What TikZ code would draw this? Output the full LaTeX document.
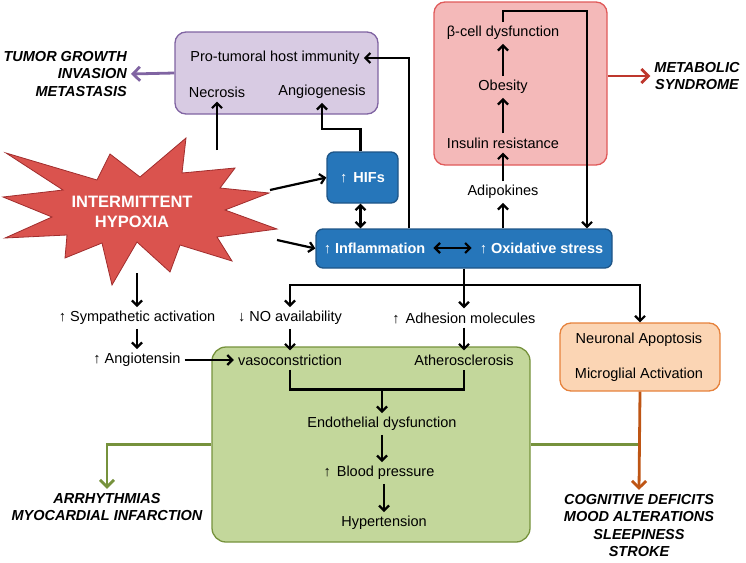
\documentclass[tikz,border=0pt]{standalone}
\usepackage{fontspec}
\setmainfont{Liberation Sans}
\usetikzlibrary{positioning}
\usetikzlibrary{calc}
\usetikzlibrary{arrows.meta}

\definecolor{immfill}{RGB}{216,203,227}
\definecolor{immline}{RGB}{128,100,162}
\definecolor{metfill}{RGB}{244,185,185}
\definecolor{metline}{RGB}{224,90,90}
\definecolor{metred}{RGB}{190,55,45}
\definecolor{hifblue}{RGB}{38,118,186}
\definecolor{hifline}{RGB}{30,85,135}
\definecolor{vasfill}{RGB}{195,215,155}
\definecolor{vasline}{RGB}{118,146,60}
\definecolor{neurfill}{RGB}{251,213,180}
\definecolor{neurline}{RGB}{230,130,60}
\definecolor{neurdark}{RGB}{190,85,20}
\definecolor{starfill}{RGB}{218,83,78}
\definecolor{starline}{RGB}{160,45,45}

\begin{document}
\begin{tikzpicture}[x=1pt,y=-1pt,
    every node/.style={font=\fontsize{14.5}{17.5}\selectfont,inner sep=4pt},
    box/.style={draw,rounded corners=11pt,line width=1.3pt},
    bluebox/.style={box,fill=hifblue,draw=hifline,rounded corners=7pt},
    boldw/.style={text=white,font=\fontsize{14.5}{17.5}\selectfont\bfseries},
    outcome/.style={font=\fontsize{14.5}{17.5}\selectfont\bfseries\itshape,align=center},
    arr/.style={-{Straight Barb[length=5pt,width=10pt]},line width=2.2pt},
    twoway/.style={{Straight Barb[length=5pt,width=10pt]}-{Straight Barb[length=5pt,width=10pt]},line width=2.2pt},
    bigarr/.style={-{Straight Barb[length=7pt,width=14pt]},line width=2.8pt}]
    \useasboundingbox (0,0) rectangle (746,562);

    \node[box,fill=immfill,draw=immline,minimum width=203pt,minimum height=82pt] (immbox) at (276.5,73) {};
    \node (immt) at (275,58) {Pro-tumoral host immunity};
    \node (necr) at (217,92) {Necrosis};
    \node (angi) at (322,92) {Angiogenesis};
    \node[outcome,align=right,anchor=east] (tumor) at (131,74) {TUMOR GROWTH\\INVASION\\METASTASIS};

    \node[box,fill=metfill,draw=metline,minimum width=173pt,minimum height=163pt] (metbox) at (520.5,83.5) {};
    \node (beta) at (503,33) {β-cell dysfunction};
    \node (obes) at (503,87) {Obesity};
    \node (insr) at (503,143) {Insulin resistance};
    \node (adip) at (503,192) {Adipokines};
    \node[outcome] (metab) at (697,76) {METABOLIC\\SYNDROME};

    \node[bluebox,minimum width=71pt,minimum height=51pt,boldw] (hifs) at (362.5,177.5) {↑\hspace{6pt}HIFs};
    \node[bluebox,minimum width=296pt,minimum height=39pt] (infl) at (464,248.5) {};
    \node[boldw] (inflt) at (374.5,248) {↑ Inflammation};
    \node[boldw] (oxt) at (541.5,248) {↑ Oxidative stress};

    \draw[fill=starfill,draw=starline,line width=0.8pt] (6,153) -- (97,180) -- (110,154) -- (140,177)
      -- (186,138) -- (182,173) -- (235,168) -- (220,188) -- (269,193) -- (225,210) -- (277,229)
      -- (217,237) -- (232,261) -- (180,245) -- (170,272) -- (137,242) -- (112,285) -- (102,243)
      -- (65,258) -- (67,235) -- (5,238) -- (52,217) -- (3,197) -- (63,190) -- cycle;
    \node[text=white,font=\fontsize{16.5}{20}\selectfont\bfseries,align=center] (ih) at (132,212) {INTERMITTENT\\HYPOXIA};
    \coordinate (ihN) at (217,150);
    \coordinate (ihE) at (270,190);
    \coordinate (ihSE) at (277,240);
    \coordinate (ihS) at (137,273);

    \node (symp) at (137,318) {↑ Sympathetic activation};
    \node (angio) at (137,360) {↑ Angiotensin};
    \node (no) at (290,318) {↓ NO availability};
    \node (adh) at (464,318) {↑\hspace{6pt}Adhesion molecules};

    \node[box,fill=vasfill,draw=vasline,minimum width=318pt,minimum height=195pt,rounded corners=14pt] (vasbox) at (371,444.5) {};
    \node (vaso) at (290,360) {vasoconstriction};
    \node (ather) at (464,360) {Atherosclerosis};
    \node (endo) at (382,424) {Endothelial dysfunction};
    \node (bp) at (379,473) {↑\hspace{6pt}Blood pressure};
    \node (hyper) at (384,523) {Hypertension};
    \node[outcome] (arrh) at (107,507) {ARRHYTHMIAS\\MYOCARDIAL INFARCTION};

    \node[box,fill=neurfill,draw=neurline,minimum width=160pt,minimum height=68pt] (neurbox) at (640,357) {};
    \node (apop) at (639,340) {Neuronal Apoptosis};
    \node (micro) at (639,375) {Microglial Activation};
    \node[outcome] (cog) at (639,525.5) {COGNITIVE DEFICITS\\MOOD ALTERATIONS\\SLEEPINESS\\STROKE};

    \draw[bigarr,immline] (immbox.west) -- (tumor.east);
    \draw[arr] (ihN) -- (necr.south);
    \draw[arr] ([xshift=-2pt]hifs.north) -- ++(0,-22) -| (angi.south);
    \draw[arr] (ihE) -- (hifs.west);
    \draw[arr] (ihSE) -- (infl.west);
    \draw[twoway] ([xshift=-2pt]hifs.south) -- ([xshift=-2pt]hifs.south |- infl.north);
    \draw[twoway,shorten <=4pt,shorten >=4pt] (inflt.east) -- (oxt.west);
    \draw[arr] ([xshift=-55pt]infl.north) |- (immt.east);

    \draw[arr] ([xshift=39pt]infl.north) -- (adip.south);
    \draw[arr] (adip.north) -- (insr.south);
    \draw[arr] (insr.north) -- (obes.south);
    \draw[arr] (obes.north) -- (beta.south);
    \draw[arr] (beta.north) -- ++(0,-11) -| ([xshift=123pt]infl.north);
    \draw[bigarr,metred] (metbox.east |- metab.west) -- (metab.west);

    \draw[line width=2.2pt] (infl.south) -- ++(0,16) coordinate (sp);
    \draw[arr] (sp) -| (no.north);
    \draw[arr] (sp) -- (adh.north);
    \draw[arr] (sp) -| (neurbox.north);
    \draw[arr] (ihS) -- (symp.north);
    \draw[arr] (symp.south) -- (angio.north);
    \draw[arr] (angio.east) -- (vaso.west);
    \draw[arr] (no.south) -- (vaso.north);
    \draw[arr] (adh.south) -- (ather.north);
    \draw[line width=2.2pt] (vaso.south) -- ++(0,20) coordinate (vb) -| (ather.south);
    \draw[arr] (vb -| endo.north) -- (endo.north);
    \draw[arr] (endo.south) -- (endo.south |- bp.north);
    \draw[arr] (hyper.north |- bp.south) -- (hyper.north);

    \draw[bigarr,vasline] (vasbox.west) -| (arrh.north);
    \draw[line width=2.8pt,vasline] (vasbox.east) -- (vasbox.east -| neurbox.south);
    \draw[bigarr,neurdark] (neurbox.south) -- (cog.north);
\end{tikzpicture}
\end{document}
